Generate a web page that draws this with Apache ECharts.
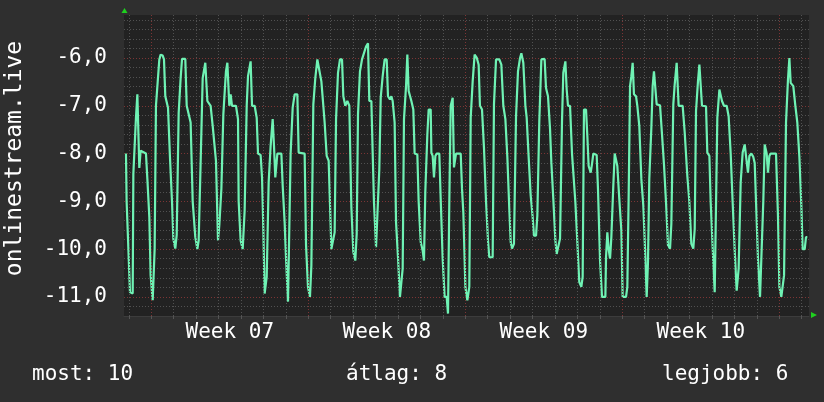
<!DOCTYPE html>
<html><head><meta charset="utf-8">
<script src="https://cdn.jsdelivr.net/npm/echarts@6/dist/echarts.min.js"></script>
<style>html,body{margin:0;padding:0;background:#2f2f2f}#c{width:824px;height:402px}</style>
</head><body><div id="c"></div>
<script>
// hours since start of Week 07
const times = [-27.1,-26.4,-22.8,-19.9,-19.2,-17.8,-16.4,-14.9,-12.8,-11.4,-5.7,-4.2,-2.1,-0.7,1.5,2.9,3.6,5.0,8.6,10.0,12.2,13.6,15.0,17.9,20.0,22.2,23.6,25.7,27.2,29.3,31.4,32.9,36.4,37.9,40.0,42.1,44.3,47.1,49.3,50.7,52.8,55.0,57.8,60.0,63.5,65.7,69.2,71.4,72.8,75.0,77.1,79.9,81.4,83.5,84.9,86.4,90.6,92.8,93.5,95.6,97.8,99.9,102.1,103.5,104.9,106.3,107.8,110.6,112.8,114.2,117.0,118.5,119.9,121.3,123.5,125.6,127.7,129.9,131.3,132.7,134.9,139.2,140.6,142.7,144.2,146.3,147.7,149.1,151.3,153.4,156.3,157.7,164.1,165.6,167.7,169.8,171.3,173.4,175.5,177.7,179.8,182.0,184.1,185.5,187.7,189.8,192.7,194.8,196.2,197.7,199.8,201.9,204.1,205.5,207.6,209.8,211.9,214.1,216.2,218.3,219.8,221.2,223.3,225.5,227.6,229.8,231.9,233.3,235.5,236.9,238.3,240.5,242.6,244.0,245.5,247.6,249.7,251.9,253.3,255.4,256.9,258.3,260.4,261.9,264.0,266.1,267.6,269.0,270.4,272.6,274.0,275.4,278.3,280.4,281.8,284.7,286.1,288.3,290.4,291.8,293.2,295.4,296.8,299.0,299.7,301.1,302.5,304.0,305.4,308.2,309.7,311.8,313.9,316.1,317.5,318.9,320.4,322.5,323.9,326.1,331.1,332.5,333.9,336.1,338.2,340.3,341.8,343.9,346.0,348.2,350.3,351.7,353.9,356.0,358.2,360.3,361.7,365.3,366.7,368.9,372.4,374.6,376.7,378.9,381.0,383.1,384.6,386.0,388.1,390.3,392.4,394.6,396.0,398.1,400.3,401.7,403.8,406.0,408.1,409.5,411.7,413.1,415.2,417.4,420.9,422.4,424.5,426.7,428.1,430.2,432.4,433.8,435.9,437.4,439.5,440.9,443.1,444.5,445.9,448.1,450.2,452.3,453.8,455.9,458.0,460.2,461.6,463.0,465.2,466.6,468.0,470.2,471.6,473.0,476.6,478.0,480.2,482.3,485.9,486.6,488.0,489.4,490.9,492.3,494.4,495.9,497.3,498.7,500.8,503.0,504.4,508.0,509.4,510.8,512.3,513.7,515.1,516.5,518.7,520.1,522.2,524.4,526.5,528.7,530.1,531.5,532.9,535.1,536.5,537.9,539.4,540.8,544.4,546.5,548.6,550.8,552.9,555.1,556.5,558.6,560.1,562.2,564.3,568.6,570.8,573.6,575.8,577.9,580.0,581.5,582.9,585.0,586.5,589.3,593.6,595.0,597.2,598.6,600.7,602.9,604.3,605.7,607.9,609.3,610.7,612.8,615.7,617.8,620.0,622.1,624.3,626.4,628.5,630.7,632.8,635.0,636.4,638.5,640.0,642.1,644.2,645.7,647.1,649.2,651.4,653.5,654.9,656.4,658.5,659.9,661.4,662.8,668.5,670.6,672.1,674.2,675.6,677.1,679.2,681.3,682.8,684.2,687.0,689.2,691.3,693.5,695.6,697.0,699.2,700.6,702.0];
const values = [-8.0,-9.0,-10.9,-10.93,-8.43,-8.43,-7.25,-6.76,-8.3,-7.94,-8.0,-8.53,-9.33,-10.55,-11.07,-11.07,-9.99,-7.0,-6.03,-5.93,-5.95,-6.03,-6.8,-7.04,-8.08,-9.02,-9.78,-9.99,-9.7,-7.15,-6.42,-6.02,-6.02,-7.0,-7.04,-7.35,-9.0,-9.75,-10.0,-9.82,-8.19,-6.42,-6.1,-6.9,-7.0,-7.42,-8.15,-9.82,-9.5,-8.74,-7.18,-6.28,-6.1,-7.0,-6.76,-7.0,-7.0,-7.28,-9.0,-9.82,-10.0,-9.19,-7.0,-6.38,-6.35,-6.07,-7.0,-7.0,-7.25,-8.0,-8.03,-8.5,-9.58,-10.93,-10.58,-8.6,-7.84,-7.28,-7.84,-8.5,-8.0,-8.0,-8.67,-9.44,-10.2,-11.1,-11.1,-8.0,-7.04,-6.76,-6.76,-7.98,-8.0,-9.92,-10.8,-11.0,-10.34,-6.97,-6.42,-6.03,-6.03,-6.49,-7.0,-7.35,-8.05,-8.15,-10.0,-10.0,-9.65,-7.28,-6.31,-6.03,-6.03,-6.8,-7.0,-6.9,-7.0,-9.13,-10.06,-10.24,-9.68,-7.18,-6.28,-6.03,-6.0,-5.76,-5.69,-6.9,-6.9,-7.98,-9.02,-9.96,-10.0,-8.33,-6.83,-6.38,-6.03,-6.03,-6.8,-6.87,-6.8,-6.9,-7.35,-9.44,-10.17,-11.0,-11.0,-10.41,-7.28,-6.59,-5.93,-6.69,-6.9,-7.08,-8.0,-8.02,-9.0,-9.85,-10.03,-10.24,-8.81,-7.6,-7.08,-7.08,-7.98,-8.05,-8.5,-8.05,-8.0,-8.0,-8.95,-10.2,-11.0,-11.0,-11.35,-9.02,-7.0,-6.83,-8.29,-8.0,-8.0,-8.74,-9.23,-10.79,-11.07,-10.79,-7.25,-6.49,-5.93,-5.99,-6.14,-7.0,-7.08,-7.88,-9.0,-9.82,-10.17,-10.17,-6.97,-6.03,-6.03,-6.14,-7.0,-7.28,-8.07,-9.16,-9.85,-9.99,-9.89,-7.22,-6.28,-6.0,-5.9,-6.1,-7.0,-7.25,-8.07,-8.88,-9.33,-9.72,-9.72,-9.3,-7.32,-6.03,-6.02,-6.63,-6.8,-7.49,-8.19,-8.95,-9.82,-10.1,-10.1,-9.78,-7.32,-6.31,-6.07,-6.66,-7.0,-7.0,-8.0,-8.03,-9.02,-9.85,-10.69,-10.79,-10.58,-7.08,-7.08,-7.63,-8.26,-8.4,-8.22,-8.0,-8.03,-8.74,-10.24,-11.0,-11.0,-10.17,-9.65,-10.0,-10.2,-9.75,-8.67,-8.0,-8.0,-8.26,-8.95,-9.61,-11.0,-11.0,-10.79,-8.92,-6.59,-6.38,-6.1,-6.76,-6.8,-7.0,-7.42,-8.53,-9.09,-10.17,-11.0,-10.27,-8.53,-7.46,-6.59,-6.28,-6.24,-6.97,-6.99,-7.6,-8.22,-9.02,-9.92,-9.99,-9.47,-6.97,-6.55,-6.1,-7.0,-7.0,-7.56,-8.47,-9.02,-9.89,-9.99,-9.58,-7.11,-6.49,-6.14,-7.0,-7.01,-7.98,-8.05,-9.02,-9.96,-10.9,-10.9,-7.25,-6.66,-6.66,-6.9,-7.0,-7.0,-7.22,-8.0,-9.02,-10.03,-10.87,-10.41,-8.6,-7.98,-7.81,-8.05,-8.4,-8.05,-8.0,-8.07,-8.2,-9.0,-10.2,-11.0,-11.0,-9.0,-7.81,-8.0,-8.4,-8.05,-8.0,-8.0,-9.3,-10.79,-11.0,-11.0,-10.55,-7.35,-6.45,-6.0,-6.52,-6.59,-7.0,-7.35,-8.07,-9.09,-10.0,-10.0,-9.75,-9.75];
const weekLabels = ['Week 07','Week 08','Week 09','Week 10'];
const weekStarts = [0, 168, 336, 504, 672];
const footer = ['most: 10', 'átlag: 8', 'legjobb: 6'];
const yName = 'onlinestream.live';

const X_MIN = -29.2, X_MAX = 703.8;
const FONT = '"DejaVu Sans Mono", monospace';
const dayTicks = [];
for (let d = -24; d <= 696; d += 24) dayTicks.push(d);
const weekCenters = weekLabels.map((_, i) => weekStarts[i] + 84);
const gray = '#515151', red = '#7c3535';

const chart = echarts.init(document.getElementById('c'), null, {renderer: 'canvas'});
const data = times.map((t, i) => [t, values[i]]);
chart.setOption({
  animation: false,
  backgroundColor: '#2f2f2f',
  grid: {left: 124, right: 15, top: 15, bottom: 86, show: true, backgroundColor: '#222222', borderWidth: 0,
         containLabel: false, outerBoundsMode: 'none'},
  xAxis: {
    type: 'value', min: X_MIN, max: X_MAX,
    splitLine: {show: false},
    axisLine: {show: true, lineStyle: {color: '#3c3c3c', width: 1}},
    axisTick: {show: true, customValues: dayTicks, length: 3, lineStyle: {color: '#555'}},
    axisLabel: {
      customValues: weekCenters, margin: 6,
      color: '#ffffff', fontFamily: FONT, fontSize: 21,
      formatter: v => weekLabels[weekCenters.indexOf(v)] || ''
    }
  },
  yAxis: {
    type: 'value', min: -11.4, max: -5.1, interval: 0.2,
    name: yName, nameLocation: 'middle', nameGap: 97, nameRotate: 90,
    nameTextStyle: {color: '#ffffff', fontFamily: FONT, fontSize: 23, padding: [0, 0, 0, 14]},
    axisLine: {show: false}, axisTick: {show: false},
    axisLabel: {
      margin: 17, color: '#ffffff', fontFamily: FONT, fontSize: 21,
      formatter: v => Math.abs(v - Math.round(v)) < 1e-6 ? v.toFixed(1).replace('.', ',') : ''
    },
    splitLine: {show: true, showMaxLine: false, lineStyle: {color: [gray, gray, red, gray, gray], width: 1, type: [1, 2]}}
  },
  series: [
    {
      type: 'line', data: data, showSymbol: false, silent: true, z: 1,
      lineStyle: {opacity: 0},
      markLine: {
        silent: true, symbol: 'none', label: {show: false}, animation: false,
        data: dayTicks.map(d => ({xAxis: d, lineStyle: {color: weekStarts.indexOf(d) >= 0 ? red : gray, type: [1, 2], width: 1}}))
      }
    },
    {
      type: 'line', data: data, showSymbol: false, z: 3,
      lineStyle: {color: '#6ff2b4', width: 2.2},
      itemStyle: {color: '#6ff2b4'}
    }
  ],
  graphic: [
    {type: 'text', left: 32, top: 364, style: {text: footer[0], fill: '#fff', font: '21px ' + FONT}},
    {type: 'text', left: 346, top: 364, style: {text: footer[1], fill: '#fff', font: '21px ' + FONT}},
    {type: 'text', left: 662, top: 364, style: {text: footer[2], fill: '#fff', font: '21px ' + FONT}},
    {type: 'polygon', shape: {points: [[121.5, 13], [127.5, 13], [124.5, 8]]}, style: {fill: '#1fd01f'}},
    {type: 'polygon', shape: {points: [[811, 312], [811, 318], [817, 315]]}, style: {fill: '#1fd01f'}}
  ]
});
</script></body></html>
